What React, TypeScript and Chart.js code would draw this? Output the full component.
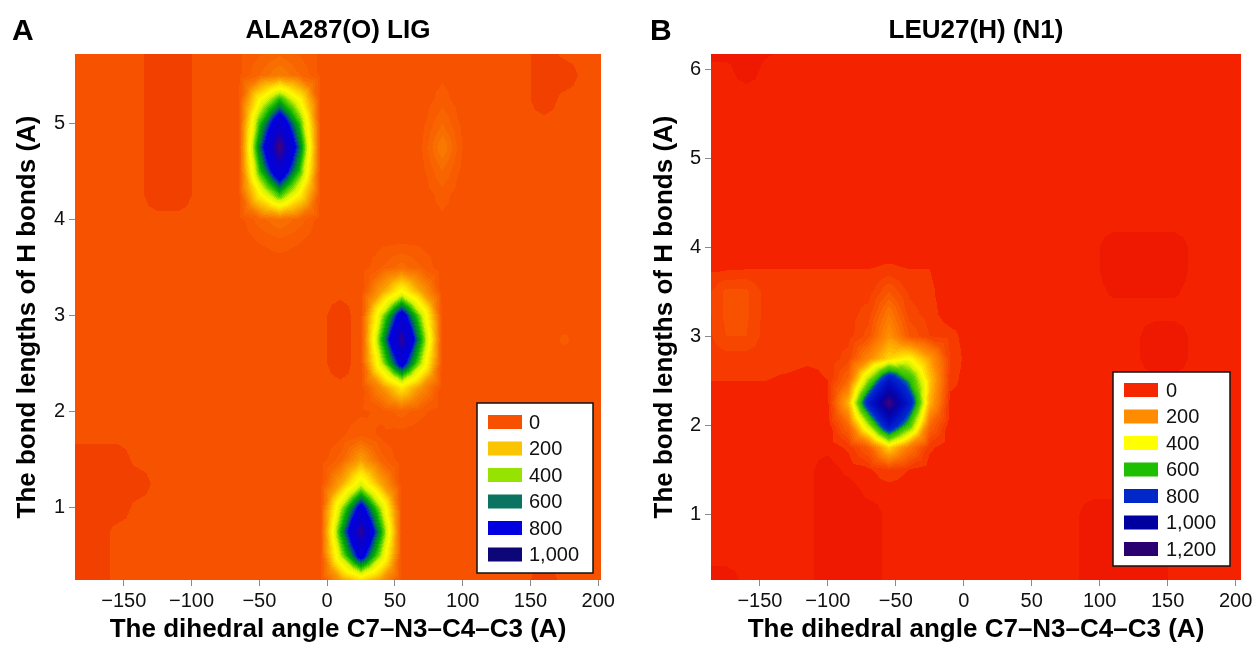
import React, { useEffect, useRef } from 'react';
import { Chart, registerables } from 'chart.js';

Chart.register(...registerables);

const FONT = '"Liberation Sans", Arial, Helvetica, sans-serif';

// ---------- shared axis text ----------
const xTickValues = [-150, -100, -50, 0, 50, 100, 150, 200];
const xTickLabels = ['\u2212150', '\u2212100', '\u221250', '0', '50', '100', '150', '200'];
const xAxisTitle = 'The dihedral angle C7\u2013N3\u2013C4\u2013C3 (A)';
const yAxisTitle = 'The bond lengths of H bonds (A)';

// ---------- Panel A : ALA287(O) LIG ----------
const letterA = 'A';
const titleA = 'ALA287(O) LIG';
const yTickValuesA = [1, 2, 3, 4, 5];
const yTickLabelsA = ['1', '2', '3', '4', '5'];
const legendLabelsA = ['0', '200', '400', '600', '800', '1,000'];
const legendColorsA = ['#F75000', '#FAC400', '#96E200', '#0A7460', '#0000E0', '#0C0678'];
const xNodesA = [-185, -170, -155, -140, -125, -110, -95, -80, -65, -50, -35, -20, -5, 10, 25, 40, 55, 70, 85, 100, 115, 130, 145, 160, 175, 190, 205];
const yNodesA = [5.75, 5.5, 5.25, 5, 4.75, 4.5, 4.25, 4, 3.75, 3.5, 3.25, 3, 2.75, 2.5, 2.25, 2, 1.75, 1.5, 1.25, 1, 0.75, 0.5, 0.25];
const countsA = [
  [15, 15, 15, 15, 0, 0, 15, 15, 25, 45, 60, 45, 25, 15, 15, 15, 15, 15, 15, 15, 15, 15, 15, 0, 15, 15, 15],
  [15, 15, 15, 15, 0, 0, 15, 15, 25, 70, 110, 70, 25, 15, 15, 15, 15, 15, 25, 15, 15, 15, 15, 0, 0, 15, 15],
  [15, 15, 15, 15, 0, 0, 15, 15, 28, 330, 540, 330, 28, 15, 15, 15, 15, 15, 40, 15, 15, 15, 15, 0, 15, 15, 15],
  [15, 15, 15, 15, 0, 0, 15, 15, 30, 520, 850, 520, 30, 15, 15, 15, 15, 22, 70, 22, 15, 15, 15, 15, 15, 15, 15],
  [15, 15, 15, 15, 0, 0, 15, 15, 30, 630, 1050, 630, 30, 15, 15, 15, 15, 30, 110, 30, 15, 15, 15, 15, 15, 15, 15],
  [15, 15, 15, 15, 0, 0, 15, 15, 30, 520, 850, 520, 30, 15, 15, 15, 15, 22, 70, 22, 15, 15, 15, 15, 15, 15, 15],
  [15, 15, 15, 15, 0, 0, 15, 15, 25, 310, 520, 310, 25, 15, 15, 15, 15, 15, 40, 15, 15, 15, 15, 15, 15, 15, 15],
  [15, 15, 15, 15, 15, 15, 15, 15, 20, 60, 90, 60, 20, 15, 15, 15, 15, 15, 25, 15, 15, 15, 15, 15, 15, 15, 15],
  [15, 15, 15, 15, 15, 15, 15, 15, 15, 30, 40, 30, 15, 15, 15, 25, 30, 25, 15, 15, 15, 15, 15, 15, 15, 15, 15],
  [15, 15, 15, 15, 15, 15, 15, 15, 15, 15, 15, 15, 15, 15, 15, 50, 80, 50, 15, 15, 15, 15, 15, 15, 15, 15, 15],
  [15, 15, 15, 15, 15, 15, 15, 15, 15, 15, 15, 15, 15, 15, 15, 170, 350, 170, 15, 15, 15, 15, 15, 15, 15, 15, 15],
  [15, 15, 15, 15, 15, 15, 15, 15, 15, 15, 15, 15, 15, 0, 20, 430, 800, 430, 20, 15, 15, 15, 15, 15, 15, 15, 15],
  [15, 15, 15, 15, 15, 15, 15, 15, 15, 15, 15, 15, 15, 0, 20, 540, 1000, 540, 20, 15, 15, 15, 15, 15, 35, 15, 15],
  [15, 15, 15, 15, 15, 15, 15, 15, 15, 15, 15, 15, 15, 0, 20, 420, 780, 420, 20, 15, 15, 15, 15, 15, 15, 15, 15],
  [15, 15, 15, 15, 15, 15, 15, 15, 15, 15, 15, 15, 15, 15, 15, 140, 300, 140, 15, 15, 15, 15, 15, 15, 15, 15, 15],
  [15, 15, 15, 15, 15, 15, 15, 15, 15, 15, 15, 15, 15, 15, 25, 35, 60, 35, 15, 15, 15, 15, 15, 15, 15, 15, 15],
  [15, 15, 15, 15, 15, 15, 15, 15, 15, 15, 15, 15, 15, 25, 50, 25, 20, 15, 15, 15, 15, 15, 15, 15, 15, 15, 15],
  [0, 0, 0, 15, 15, 15, 15, 15, 15, 15, 15, 15, 15, 60, 170, 60, 15, 15, 15, 15, 15, 15, 15, 15, 15, 15, 15],
  [0, 0, 0, 0, 15, 15, 15, 15, 15, 15, 15, 15, 15, 180, 400, 180, 15, 15, 15, 15, 15, 15, 15, 15, 15, 15, 15],
  [0, 0, 0, 15, 15, 15, 15, 15, 15, 15, 15, 15, 20, 430, 780, 430, 20, 15, 15, 15, 15, 15, 15, 15, 15, 15, 15],
  [0, 0, 15, 15, 15, 15, 15, 15, 15, 15, 15, 15, 20, 560, 1000, 560, 20, 15, 15, 15, 15, 15, 15, 15, 15, 15, 15],
  [0, 0, 15, 15, 15, 15, 15, 15, 15, 15, 15, 15, 20, 430, 780, 430, 20, 15, 15, 15, 15, 15, 15, 15, 15, 15, 15],
  [0, 0, 15, 15, 15, 15, 15, 15, 15, 15, 15, 15, 15, 160, 280, 160, 15, 15, 15, 15, 15, 15, 15, 0, 15, 15, 15],
];
const cmapLevelsA = [0, 20, 60, 120, 200, 280, 340, 420, 480, 560, 630, 690, 720, 900, 1000, 1060];
const cmapColorsA = [
  [242, 64, 0], [247, 82, 0], [248, 100, 0], [249, 130, 0], [251, 175, 0], [254, 225, 0], [255, 250, 0],
  [215, 242, 0], [110, 215, 0], [0, 175, 0], [0, 120, 70], [0, 50, 185], [0, 0, 225], [10, 0, 200], [50, 0, 140], [80, 0, 110],
];

// ---------- Panel B : LEU27(H) (N1) ----------
const letterB = 'B';
const titleB = 'LEU27(H) (N1)';
const yTickValuesB = [1, 2, 3, 4, 5, 6];
const yTickLabelsB = ['1', '2', '3', '4', '5', '6'];
const legendLabelsB = ['0', '200', '400', '600', '800', '1,000', '1,200'];
const legendColorsB = ['#F52600', '#FF8C00', '#FFFF00', '#1EBE00', '#0028C8', '#0000A0', '#2A0070'];
const xNodesB = [-190, -175, -160, -145, -130, -115, -100, -85, -70, -55, -40, -25, -10, 5, 20, 35, 50, 65, 80, 95, 110, 125, 140, 155, 170, 185, 200, 215];
const yNodesB = [6.25, 6, 5.75, 5.5, 5.25, 5, 4.75, 4.5, 4.25, 4, 3.75, 3.5, 3.25, 3, 2.75, 2.5, 2.25, 2, 1.75, 1.5, 1.25, 1, 0.75, 0.5, 0.25];
const countsB = [
  [0, 0, 0, 5, 15, 15, 15, 15, 15, 15, 15, 15, 15, 15, 15, 15, 15, 15, 15, 15, 15, 15, 15, 15, 15, 15, 15, 15],
  [15, 15, 0, 15, 15, 15, 15, 15, 15, 15, 15, 15, 15, 15, 15, 15, 15, 15, 15, 15, 15, 15, 15, 15, 15, 15, 15, 15],
  [15, 15, 15, 15, 15, 15, 15, 15, 15, 15, 15, 15, 15, 15, 15, 15, 15, 15, 15, 15, 15, 15, 15, 15, 15, 15, 15, 15],
  [15, 15, 15, 15, 15, 15, 15, 15, 15, 15, 15, 15, 15, 15, 15, 15, 15, 15, 15, 15, 15, 15, 15, 15, 15, 15, 15, 15],
  [15, 15, 15, 15, 15, 15, 15, 15, 15, 15, 15, 15, 15, 15, 15, 15, 15, 15, 15, 15, 15, 15, 15, 15, 15, 15, 15, 15],
  [15, 15, 15, 15, 15, 15, 15, 15, 15, 15, 15, 15, 15, 15, 15, 15, 15, 15, 15, 15, 15, 15, 15, 15, 15, 15, 15, 15],
  [15, 15, 15, 15, 15, 15, 15, 15, 15, 15, 15, 15, 15, 15, 15, 15, 15, 15, 15, 15, 15, 15, 15, 15, 15, 15, 15, 15],
  [15, 15, 15, 15, 15, 15, 15, 15, 15, 15, 15, 15, 15, 15, 15, 15, 15, 15, 15, 15, 15, 15, 15, 15, 15, 15, 15, 15],
  [15, 15, 15, 15, 15, 15, 15, 15, 15, 15, 15, 15, 15, 15, 15, 15, 15, 15, 15, 15, 15, 15, 15, 15, 15, 15, 15, 15],
  [15, 15, 15, 15, 15, 15, 15, 15, 15, 15, 15, 15, 15, 15, 15, 15, 15, 15, 15, 15, 0, 0, 0, 0, 15, 15, 15, 15],
  [25, 28, 30, 30, 30, 30, 30, 30, 30, 35, 30, 30, 15, 15, 15, 15, 15, 15, 15, 15, 0, 0, 0, 0, 15, 15, 15, 15],
  [40, 75, 75, 40, 40, 40, 40, 40, 40, 90, 45, 35, 15, 15, 15, 15, 15, 15, 15, 15, 8, 8, 8, 8, 15, 15, 15, 15],
  [40, 75, 75, 40, 40, 40, 40, 40, 60, 150, 60, 40, 15, 15, 15, 15, 15, 15, 15, 15, 15, 15, 15, 15, 15, 15, 15, 15],
  [40, 70, 70, 40, 40, 40, 40, 40, 80, 200, 90, 50, 40, 15, 15, 15, 15, 15, 15, 15, 15, 15, 0, 0, 15, 15, 15, 15],
  [40, 40, 40, 40, 40, 35, 35, 60, 180, 300, 350, 220, 50, 15, 15, 15, 15, 15, 15, 15, 15, 15, 0, 0, 15, 15, 15, 15],
  [30, 30, 30, 30, 25, 20, 30, 120, 480, 850, 600, 280, 40, 15, 15, 15, 15, 15, 15, 15, 15, 15, 15, 15, 15, 15, 15, 15],
  [15, 15, 15, 15, 15, 15, 25, 250, 800, 1200, 800, 250, 20, 15, 15, 15, 15, 15, 15, 15, 15, 15, 15, 15, 15, 15, 15, 15],
  [15, 15, 15, 15, 15, 15, 15, 120, 450, 850, 550, 120, 15, 15, 15, 15, 15, 15, 15, 15, 15, 15, 15, 15, 15, 15, 15, 15],
  [15, 15, 15, 15, 15, 15, 15, 35, 100, 300, 150, 35, 15, 15, 15, 15, 15, 15, 15, 15, 15, 15, 15, 15, 15, 15, 15, 15],
  [15, 15, 15, 15, 15, 15, 0, 15, 25, 50, 30, 15, 15, 15, 15, 15, 15, 15, 15, 15, 15, 15, 15, 15, 15, 15, 15, 15],
  [15, 15, 15, 15, 15, 15, 0, 0, 15, 15, 15, 15, 15, 15, 15, 15, 15, 15, 15, 15, 15, 15, 15, 15, 15, 15, 15, 15],
  [15, 15, 15, 15, 15, 15, 0, 0, 0, 15, 15, 15, 15, 15, 15, 15, 15, 15, 15, 0, 0, 0, 0, 15, 15, 15, 15, 15],
  [15, 15, 15, 15, 15, 15, 0, 0, 0, 15, 15, 15, 15, 15, 15, 15, 15, 15, 15, 0, 0, 0, 0, 15, 15, 15, 15, 15],
  [15, 15, 15, 15, 15, 15, 0, 0, 0, 15, 15, 15, 15, 15, 15, 15, 15, 15, 15, 0, 0, 0, 0, 15, 15, 15, 15, 15],
  [0, 0, 15, 15, 15, 15, 0, 0, 0, 15, 15, 15, 15, 15, 15, 15, 15, 15, 15, 0, 0, 0, 0, 15, 15, 15, 15, 15],
];
const cmapLevelsB = [0, 20, 40, 80, 140, 200, 280, 350, 420, 500, 600, 660, 720, 900, 1050, 1200];
const cmapColorsB = [
  [238, 25, 0], [245, 34, 0], [246, 58, 0], [248, 82, 0], [252, 115, 0], [255, 145, 0], [255, 200, 0], [255, 250, 0],
  [215, 242, 0], [100, 210, 0], [30, 185, 0], [0, 100, 150], [0, 40, 210], [0, 10, 190], [10, 0, 160], [70, 0, 120],
];

type PanelCfg = {
  letter: string; title: string;
  xMin: number; xMax: number; yMin: number; yMax: number;
  yTicks: number[]; yLabels: string[];
  xs: number[]; ys: number[]; z: number[][];
  levels: number[]; colors: number[][];
  legendLabels: string[]; legendColors: string[];
  yAxisWidth: number; padRight: number; yTitlePad: number; letterX: number;
  legend: { dx: number; dy: number; w: number; h: number; first: number; step: number; sw: number; lx: number };
};

const panels: PanelCfg[] = [
  {
    letter: letterA, title: titleA, xMin: -186, xMax: 202, yMin: 0.25, yMax: 5.72,
    yTicks: yTickValuesA, yLabels: yTickLabelsA, xs: xNodesA, ys: yNodesA, z: countsA,
    levels: cmapLevelsA, colors: cmapColorsA, legendLabels: legendLabelsA, legendColors: legendColorsA,
    yAxisWidth: 75, padRight: 27, yTitlePad: 12, letterX: 12,
    legend: { dx: -124, dy: -177, w: 116, h: 170, first: 19, step: 26.5, sw: 11, lx: 52 },
  },
  {
    letter: letterB, title: titleB, xMin: -186, xMax: 204, yMin: 0.26, yMax: 6.17,
    yTicks: yTickValuesB, yLabels: yTickLabelsB, xs: xNodesB, ys: yNodesB, z: countsB,
    levels: cmapLevelsB, colors: cmapColorsB, legendLabels: legendLabelsB, legendColors: legendColorsB,
    yAxisWidth: 83, padRight: 15, yTitlePad: 21, letterX: 22,
    legend: { dx: -128, dy: -208, w: 117, h: 194, first: 18, step: 26.5, sw: 11, lx: 53 },
  },
];

function makeHeatPlugin(p: PanelCfg) {
  const { xs, ys, z, levels, colors } = p;
  const colorAt = (v: number) => {
    if (v <= levels[0]) return colors[0];
    for (let k = 1; k < levels.length; k++) {
      if (v <= levels[k]) {
        const t = (v - levels[k - 1]) / (levels[k] - levels[k - 1]);
        const c0 = colors[k - 1], c1 = colors[k];
        return [c0[0] + (c1[0] - c0[0]) * t, c0[1] + (c1[1] - c0[1]) * t, c0[2] + (c1[2] - c0[2]) * t];
      }
    }
    return colors[colors.length - 1];
  };
  const sample = (x: number, y: number) => {
    const xc = Math.min(Math.max(x, xs[0]), xs[xs.length - 1]);
    const yc = Math.min(Math.max(y, ys[ys.length - 1]), ys[0]);
    let i = 0;
    while (i < xs.length - 2 && xc > xs[i + 1]) i++;
    let j = 0;
    while (j < ys.length - 2 && yc < ys[j + 1]) j++;
    const u = (xc - xs[i]) / (xs[i + 1] - xs[i]);
    const v = (ys[j] - yc) / (ys[j] - ys[j + 1]);
    const a = z[j][i], b = z[j][i + 1], c = z[j + 1][i], d = z[j + 1][i + 1];
    const m = (a + b + c + d) / 4;
    const s = u - 0.5, t = v - 0.5;
    if (Math.abs(t) >= Math.abs(s)) {
      if (t < 0) return a + (b - a) * u + (2 * m - a - b) * v;
      return 2 * m - d + (d - c) * u + (c + d - 2 * m) * v;
    }
    if (s < 0) return a + (2 * m - a - c) * u + (c - a) * v;
    return 2 * m - d + (b + d - 2 * m) * u + (d - b) * v;
  };
  return {
    id: 'heatmap',
    beforeDatasetsDraw(chart: any) {
      const { ctx, chartArea: ar, scales } = chart;
      const sx = scales.x, sy = scales.y;
      const x0 = Math.floor(ar.left), y0 = Math.floor(ar.top);
      const w = Math.ceil(ar.right) - x0, h = Math.ceil(ar.bottom) - y0;
      const img = ctx.createImageData(w, h);
      const xv: number[] = [];
      for (let px = 0; px < w; px++) xv.push(sx.getValueForPixel(x0 + px + 0.5));
      for (let py = 0; py < h; py++) {
        const yv = sy.getValueForPixel(y0 + py + 0.5);
        for (let px = 0; px < w; px++) {
          const val = sample(xv[px], yv);
          const q = Math.floor((val + 10) / 20) * 20;
          const col = colorAt(q);
          const o = (py * w + px) * 4;
          img.data[o] = col[0]; img.data[o + 1] = col[1]; img.data[o + 2] = col[2]; img.data[o + 3] = 255;
        }
      }
      ctx.putImageData(img, x0, y0);
    },
  };
}

function makeDecorPlugin(p: PanelCfg) {
  return {
    id: 'decor',
    afterDraw(chart: any) {
      const { ctx, chartArea: ar } = chart;
      ctx.save();
      ctx.fillStyle = '#000';
      ctx.font = `bold 30px ${FONT}`;
      ctx.textBaseline = 'alphabetic';
      ctx.textAlign = 'left';
      ctx.fillText(p.letter, p.letterX, 40);
      const L = p.legend;
      const bx = ar.right + L.dx, by = ar.bottom + L.dy;
      ctx.fillStyle = '#fff';
      ctx.fillRect(bx, by, L.w, L.h);
      ctx.strokeStyle = '#111';
      ctx.lineWidth = 1.5;
      ctx.strokeRect(bx, by, L.w, L.h);
      ctx.font = `20px ${FONT}`;
      ctx.textBaseline = 'middle';
      p.legendLabels.forEach((lab, k) => {
        const cy = by + L.first + k * L.step;
        ctx.fillStyle = p.legendColors[k];
        ctx.fillRect(bx + L.sw, cy - 7, 34, 14);
        ctx.fillStyle = '#111';
        ctx.fillText(lab, bx + L.lx, cy + 1);
      });
      ctx.restore();
    },
  };
}

function makeConfig(p: PanelCfg): any {
  return {
    type: 'scatter',
    data: { datasets: [{ data: [], pointRadius: 0 }] },
    plugins: [makeHeatPlugin(p), makeDecorPlugin(p)],
    options: {
      animation: false,
      responsive: false,
      devicePixelRatio: 1,
      layout: { padding: { left: 0, right: p.padRight, top: 0, bottom: 0 } },
      plugins: {
        legend: { display: false },
        tooltip: { enabled: false },
        title: {
          display: true, text: p.title, fullSize: false, color: '#000',
          font: { family: FONT, size: 26, weight: 'bold', lineHeight: 1.2 },
          padding: { top: 15, bottom: 7.8 },
        },
      },
      scales: {
        x: {
          type: 'linear', min: p.xMin, max: p.xMax,
          afterBuildTicks: (axis: any) => { axis.ticks = xTickValues.map((v) => ({ value: v })); },
          afterFit: (s: any) => { s.height = 72; },
          ticks: {
            autoSkip: false, maxRotation: 0, padding: 3, color: '#111',
            font: { family: FONT, size: 20 },
            callback: (v: number) => { const k = xTickValues.indexOf(v); return k >= 0 ? xTickLabels[k] : ''; },
          },
          grid: { display: true, drawOnChartArea: false, drawTicks: true, tickLength: 6, color: '#8a8a8a' },
          border: { display: false },
          title: {
            display: true, text: xAxisTitle, color: '#000',
            font: { family: FONT, size: 26, weight: 'bold', lineHeight: 1.2 },
            padding: { top: 0, bottom: 7 },
          },
        },
        y: {
          type: 'linear', min: p.yMin, max: p.yMax,
          afterBuildTicks: (axis: any) => { axis.ticks = p.yTicks.map((v) => ({ value: v })); },
          afterFit: (s: any) => { s.width = p.yAxisWidth; },
          ticks: {
            autoSkip: false, padding: 4, color: '#111',
            font: { family: FONT, size: 20 },
            callback: (v: number) => { const k = p.yTicks.indexOf(v); return k >= 0 ? p.yLabels[k] : ''; },
          },
          grid: { display: true, drawOnChartArea: false, drawTicks: true, tickLength: 6, color: '#8a8a8a' },
          border: { display: false },
          title: {
            display: true, text: yAxisTitle, color: '#000',
            font: { family: FONT, size: 26, weight: 'bold', lineHeight: 1.2 },
            padding: { top: p.yTitlePad, bottom: 0 },
          },
        },
      },
    },
  };
}

function Panel({ cfg }: { cfg: PanelCfg }) {
  const ref = useRef<HTMLCanvasElement>(null);
  useEffect(() => {
    const chart = new Chart(ref.current as HTMLCanvasElement, makeConfig(cfg));
    return () => chart.destroy();
  }, [cfg]);
  return <canvas ref={ref} width={628} height={652} style={{ display: 'block', width: 628, height: 652 }} />;
}

export default function App() {
  useEffect(() => {
    document.body.style.margin = '0';
  }, []);
  return (
    <div style={{ position: 'absolute', left: 0, top: 0, display: 'flex', width: 1256, height: 652, background: '#fff' }}>
      {panels.map((p) => (
        <Panel key={p.letter} cfg={p} />
      ))}
    </div>
  );
}
